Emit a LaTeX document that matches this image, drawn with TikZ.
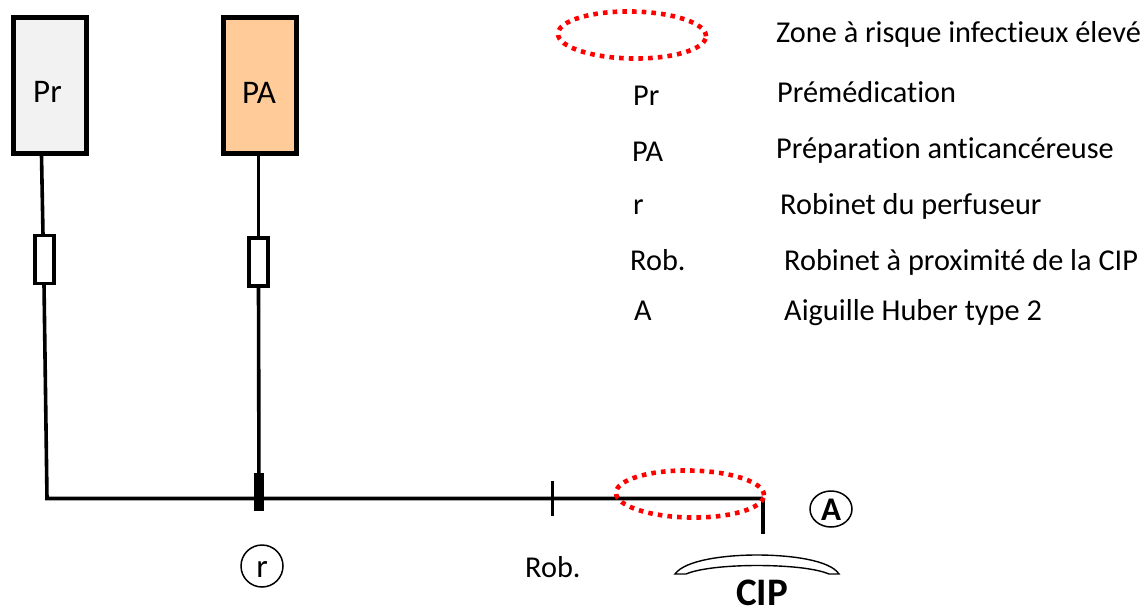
\documentclass[tikz,border=0pt]{standalone}
\usepackage{fontspec}
\setmainfont{Carlito}
\definecolor{prfill}{HTML}{F2F2F2}
\definecolor{pafill}{HTML}{FFCC99}
\definecolor{zonered}{HTML}{FF0000}
\usetikzlibrary{shapes.geometric}
\tikzset{
  x=1pt,y=-1pt,
  bag/.style={draw=black,line width=4.2pt,minimum width=73pt,minimum height=136pt,inner sep=0pt,outer sep=0pt},
  filterbox/.style={draw=black,fill=white,line width=3.6pt,minimum width=19pt,minimum height=48pt,inner sep=0pt,outer sep=0pt},
  tube/.style={draw=black,line width=3.6pt},
  zone/.style={draw=zonered,line width=4.6pt,dash pattern=on 4.6pt off 5.1pt,ellipse,minimum width=148pt,minimum height=47pt,inner sep=0pt},
  txt/.style={font=\fontsize{30.3pt}{34pt}\selectfont\addfontfeatures{Ligatures=NoCommon},anchor=base west,inner sep=0pt,text=black},
  bigtxt/.style={font=\fontsize{33pt}{36pt}\selectfont,anchor=base west,inner sep=0pt,text=black},
  mark circle/.style={draw=black,line width=1.5pt,ellipse,inner sep=0pt},
}
\begin{document}
\begin{tikzpicture}
\useasboundingbox (0,0) rectangle (1147,610);
% bags
\node[bag,fill=prfill] (pr) at (50,85.5) {};
\node[bag,fill=pafill] (pa) at (260,85.5) {};
\node[bigtxt] (prt) at (33,102) {Pr};
\node[bigtxt] (pat) at (242,103) {PA};
% filters
\node[filterbox] (f1) at (44.5,259.5) {};
\node[filterbox] (f2) at (258.5,262) {};
% junctions
\coordinate (c1) at (41.5,155);
\coordinate (c1b) at (43,235);
\coordinate (c2) at (44,284);
\coordinate (corner) at (47,498.5);
\coordinate (tap) at (259,498.5);
\coordinate (end) at (763,498.5);
\coordinate (needle) at (763,534);
\draw[tube] (c1) -- (c1b);
\draw[tube] (c2) -- (corner) -- (end);
\draw[black,line width=4pt] (end) -- (needle);
\draw[tube] (pa.south -| f2) -- (f2.north);
\draw[tube] (f2.south) -- (tap);
% tap r
\node[fill=black,minimum width=10pt,minimum height=38pt,inner sep=0pt] (rtap) at (259,492) {};
% tap Rob
\coordinate (rob1) at (552,481);
\coordinate (rob2) at (552,516);
\draw[black,line width=3pt] (rob1) -- (rob2);
% zones
\node[zone,rotate=-1] (z1) at (632,35) {};
\node[zone,rotate=-1] (z2) at (690,494) {};
% circled marks
\node[mark circle,minimum width=42pt,minimum height=36pt] (ca) at (831,509) {};
\node[font=\fontsize{33pt}{36pt}\selectfont\bfseries,inner sep=0pt] (cat) at (831,510) {A};
\node[mark circle,minimum width=42pt,minimum height=42pt] (cr) at (262,566) {};
\node[bigtxt,anchor=base] (crt) at (262,577) {r};
\node[txt] (rob) at (525,577) {Rob.};
% CIP
\draw[black,fill=white,line width=1.4pt] (675,574) .. controls (685,560) and (725,555) .. (757,555)
  .. controls (790,555) and (830,560) .. (839,574) -- (829,574)
  .. controls (815,568) and (785,565.5) .. (757,565.5)
  .. controls (730,565.5) and (700,568) .. (686,574) -- cycle;
\node[font=\fontsize{39pt}{42pt}\selectfont\bfseries,inner sep=0pt,anchor=base] (cip) at (762,605) {CIP};
% legend
\node[txt] (l1) at (776,42) {Zone à risque infectieux élevé};
\node[txt] (k2) at (633,105) {Pr};
\node[txt] (l2) at (777,102) {Prémédication};
\node[txt] (k3) at (632,161) {PA};
\node[txt] (l3) at (776,158) {Préparation anticancéreuse};
\node[txt] (k4) at (633,214) {r};
\node[txt] (l4) at (780,214) {Robinet du perfuseur};
\node[txt] (k5) at (630,270) {Rob.};
\node[txt] (l5) at (784,270) {Robinet à proximité de la CIP};
\node[txt] (k6) at (634,320) {A};
\node[txt] (l6) at (784,320) {Aiguille Huber type 2};
\end{tikzpicture}
\end{document}
